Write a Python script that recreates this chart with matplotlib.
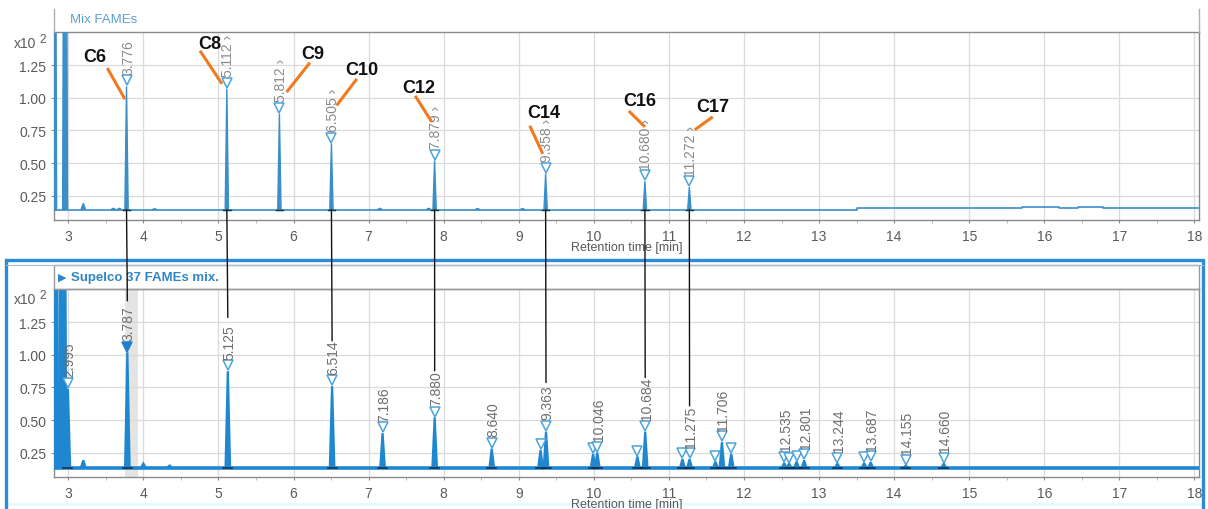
import matplotlib
matplotlib.use('Agg')
import matplotlib.pyplot as plt
from matplotlib.patches import ConnectionPatch, Rectangle
from matplotlib.lines import Line2D

plt.rcParams['font.family'] = ['Liberation Sans', 'DejaVu Sans']

# ---------------- data ----------------
x_ticks = list(range(3, 19))
y_ticks = [0.25, 0.50, 0.75, 1.00, 1.25]
y_tick_labels = ['0.25', '0.50', '0.75', '1.00', '1.25']
x_label = 'Retention time [min]'
y_scale_label = 'x10'
y_scale_exp = '2'

top_title = 'Mix FAMEs'
top_rt = [3.776, 5.112, 5.812, 6.505, 7.879, 9.358, 10.680, 11.272]
top_h = [1.09, 1.07, 0.88, 0.65, 0.52, 0.42, 0.36, 0.315]
top_lbl = ['3.776', '5.112 \u203a', '5.812 \u203a', '6.505 \u203a', '7.879 \u203a',
           '9.358 \u203a', '10.680 \u203a', '11.272 \u203a']
top_names = ['C6', 'C8', 'C9', 'C10', 'C12', 'C14', 'C16', 'C17']
top_minor_rt = [2.83, 2.94, 2.975, 3.20, 3.60, 3.68, 4.15, 7.15, 7.80, 8.45, 9.05]
top_minor_h = [3.0, 3.0, 3.0, 0.19, 0.152, 0.152, 0.148, 0.152, 0.152, 0.150, 0.150]
top_base_x = [2.81, 13.50, 15.70, 16.20, 16.45, 16.78, 17.12, 17.20, 18.06]
top_base_y = [0.142, 0.153, 0.162, 0.153, 0.162, 0.153, 0.158, 0.153, 0.153]

bot_title = 'Supelco 37 FAMEs mix.'
bot_rt = [2.84, 2.90, 2.95, 2.995, 3.20, 3.787, 4.00, 4.35, 5.125, 6.514, 7.186,
          7.880, 8.640, 9.290, 9.363, 9.990, 10.046, 10.580, 10.684, 11.180,
          11.275, 11.620, 11.706, 11.830, 12.535, 12.600, 12.700, 12.801, 13.244,
          13.600, 13.687, 14.155, 14.660]
bot_h = [3.0, 3.0, 3.0, 0.74, 0.19, 1.02, 0.165, 0.15, 0.875, 0.76, 0.40,
         0.52, 0.28, 0.27, 0.41, 0.24, 0.25, 0.22, 0.41, 0.20,
         0.20, 0.18, 0.33, 0.24, 0.17, 0.165, 0.18, 0.19, 0.165,
         0.17, 0.175, 0.15, 0.165]
bot_lbl = ['', '', '', '2.995', '', '3.787', '', '', '5.125', '6.514', '7.186',
           '7.880', '8.640', '', '9.363', '', '10.046', '', '10.684', '',
           '11.275', '', '11.706', '', '12.535', '', '', '12.801', '13.244',
           '', '13.687', '14.155', '14.660']
bot_mark = [0, 0, 0, 1, 0, 2, 0, 0, 1, 1, 1,
            1, 1, 1, 1, 1, 1, 1, 1, 1,
            1, 1, 1, 1, 1, 1, 1, 1, 1,
            1, 1, 1, 1]
bot_base_x = [2.81, 18.06]
bot_base_y = [0.135, 0.135]
bot_highlight = (3.755, 3.925)

link_top = [3.776, 5.112, 6.505, 7.879, 9.358, 10.680, 11.272]
link_bot = [3.787, 5.125, 6.514, 7.880, 9.363, 10.684, 11.275]
link_end_y = [1.416, 1.288, 1.108, 0.878, 0.788, 0.827, 0.609]

# ---------------- layout ----------------
W, H = 1208, 510
name_xy = [(3.356, 1.315), (4.887, 1.417), (6.262, 1.34), (6.907, 1.219),
           (7.664, 1.084), (9.33, 0.886), (10.612, 0.981), (11.588, 0.938)]
name_line = [((3.52, 1.23), (3.755, 0.99)), ((4.754, 1.363), (5.047, 1.109)),
             ((6.218, 1.271), (5.908, 1.045)), ((6.844, 1.147), (6.574, 0.942)),
             ((7.62, 1.017), (7.84, 0.817)), ((9.147, 0.786), (9.32, 0.57)),
             ((10.466, 0.90), (10.68, 0.778)), ((11.584, 0.855), (11.344, 0.755))]

def fx(x):
    return x / W

def fy(y):
    return 1 - y / H

TOP_C = '#3a8fc8'
BOT_C = '#1f86d0'
MK_C = '#4aa3db'
GRID_C = '#dadada'
SPINE_C = '#8a8a8a'
TICK_C = '#5a5a5a'
MS = 6.5

fig = plt.figure(figsize=(W / 100, H / 100), dpi=100)
fig.patch.set_facecolor('white')

ax_t = fig.add_axes([fx(54), fy(221), fx(1199) - fx(54), (221 - 33) / H])
ax_b = fig.add_axes([fx(54), fy(478), fx(1199) - fx(54), (478 - 290) / H])

for ax, ylab in ((ax_t, 44), (ax_b, 300)):
    ax.set_xlim(2.81, 18.06)
    ax.set_ylim(0.062, 1.507)
    ax.set_xticks(x_ticks)
    ax.set_xticklabels([str(t) for t in x_ticks])
    ax.set_xticks([t + 0.5 for t in x_ticks[:-1]], minor=True)
    ax.set_yticks(y_ticks)
    ax.set_yticklabels(y_tick_labels)
    ax.grid(True, which='major', color=GRID_C, lw=0.9, zorder=0)
    ax.set_axisbelow(True)
    for s in ax.spines.values():
        s.set_color(SPINE_C)
        s.set_linewidth(1.0)
    ax.tick_params(axis='both', which='major', length=2.5, color=SPINE_C,
                   labelsize=10, labelcolor=TICK_C)
    ax.tick_params(axis='x', which='major', pad=4)
    ax.tick_params(axis='y', which='major', pad=3)
    ax.tick_params(axis='x', which='minor', length=2.5, color='#b0b0b0')
    ax.set_xlabel(x_label, fontsize=9, color=TICK_C)
    ax.xaxis.set_label_coords(0.5, -21 / 188)
    fig.text(fx(14), fy(ylab), y_scale_label, ha='left', va='center',
             fontsize=10, color=TICK_C)
    fig.text(fx(39), fy(ylab - 4), y_scale_exp, ha='left', va='center',
             fontsize=8.5, color=TICK_C)

# ----- top panel -----
ax_t.step(top_base_x, top_base_y, where='post', color=TOP_C, lw=1.2, zorder=3)
for rt, h in zip(top_minor_rt, top_minor_h):
    hw = 0.015 if h > 2 else 0.03
    ax_t.fill([rt - hw, rt, rt + hw], [0.142, h, 0.142], color=TOP_C, lw=1.0, zorder=3)
for rt, h, lbl in zip(top_rt, top_h, top_lbl):
    ax_t.fill([rt - 0.022, rt, rt + 0.022], [0.142, h, 0.142], color=TOP_C,
              lw=1.0, zorder=3)
    ax_t.plot([rt - 0.05, rt + 0.05], [0.142, 0.142], color='#1b2a3a', lw=1.0, zorder=4)
    ax_t.plot([rt], [h + 0.045], marker='v', ms=MS, mfc='white', mec=MK_C,
              mew=1.1, zorder=5, clip_on=False)
    ax_t.annotate(lbl, xy=(rt, h), xytext=(1, 9), textcoords='offset points',
                  rotation=90, ha='center', va='bottom', fontsize=10,
                  color='#8a8a8a', zorder=5)
for name, (tx, ty), (p1, p2) in zip(top_names, name_xy, name_line):
    ax_t.plot([p1[0], p2[0]], [p1[1], p2[1]], color='#f07a20', lw=2.2,
              solid_capstyle='butt', zorder=6, clip_on=False)
    ax_t.text(tx, ty, name, ha='center', va='center', fontsize=13,
              fontweight='bold', color='#111111', zorder=7, clip_on=False)

# top header / frame
fig.add_artist(Line2D([fx(54), fx(54)], [fy(10), fy(33)], color='#b0b0b0', lw=1.0))
fig.add_artist(Line2D([fx(1199), fx(1199)], [fy(10), fy(33)], color='#b0b0b0', lw=1.0))
fig.text(fx(70), fy(20), top_title, ha='left', va='center', fontsize=9.5,
         color='#5aa0d2')

# ----- bottom panel -----
ax_b.axvspan(*bot_highlight, color='#e4e4e4', zorder=0.5, lw=0)
ax_b.plot(bot_base_x, bot_base_y, color=BOT_C, lw=2.6, zorder=3,
          solid_capstyle='butt')
for rt, h, lbl, mk in zip(bot_rt, bot_h, bot_lbl, bot_mark):
    hw = 0.025 if h > 2 else 0.03
    ax_b.fill([rt - hw, rt, rt + hw], [0.135, h, 0.135], color=BOT_C, lw=1.6,
              zorder=3)
    if mk:
        ax_b.plot([rt - 0.06, rt + 0.06], [0.135, 0.135], color='#1b2a3a',
                  lw=1.1, zorder=4)
    if mk == 1:
        ax_b.plot([rt], [h + 0.045], marker='v', ms=MS, mfc='white', mec=MK_C,
                  mew=1.1, zorder=5)
    elif mk == 2:
        ax_b.plot([rt], [h + 0.045], marker='v', ms=MS, mfc='#1f7fcf', mec='#1f7fcf',
                  mew=1.1, zorder=5)
    if lbl:
        ax_b.annotate(lbl, xy=(rt, h), xytext=(1, 9), textcoords='offset points',
                      rotation=90, ha='center', va='bottom', fontsize=10,
                      color='#6e6e6e', zorder=5)

# connection lines between panels
for xt, xb, ye in zip(link_top, link_bot, link_end_y):
    cp = ConnectionPatch(xyA=(xt, 0.142), coordsA=ax_t.transData,
                         xyB=(xb, ye), coordsB=ax_b.transData,
                         color='#111111', lw=1.0, zorder=8)
    fig.add_artist(cp)

# bottom frame / header
fig.add_artist(Rectangle((fx(8), fy(507)), fx(1203) - fx(8), 3 / H,
                         transform=fig.transFigure, color='#e6fbff', lw=0, zorder=0))
fig.add_artist(Line2D([fx(6), fx(1203)], [fy(266), fy(266)], color='#a8b8c8', lw=0.8))
fig.add_artist(Rectangle((fx(54), fy(290)), fx(1199) - fx(54), 24 / H,
                         transform=fig.transFigure, fill=False,
                         edgecolor='#9a9a9a', lw=1.0))
fig.add_artist(Rectangle((fx(6), fy(520)), fx(1203) - fx(6), (520 - 261) / H,
                         transform=fig.transFigure, fill=False,
                         edgecolor='#2c8bd6', lw=2.4, clip_on=False))
fig.text(fx(58), fy(278), '\u25b6', ha='left', va='center', fontsize=8,
         color='#2e86c8', family=['DejaVu Sans'])
fig.text(fx(71), fy(278), bot_title, ha='left', va='center', fontsize=9.5,
         fontweight='bold', color='#2e86c8')

fig.savefig('out.png', dpi=100)
